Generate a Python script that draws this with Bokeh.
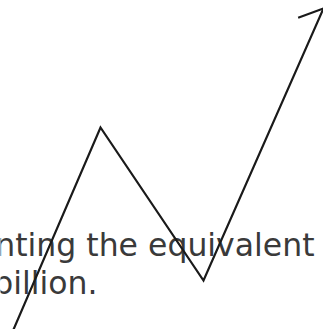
import numpy as np
from bokeh.plotting import figure
from bokeh.models import Range1d
from bokeh.core.properties import value
from bokeh.embed import file_html
from bokeh.resources import INLINE

# zig-zag trend values (x position, level)
trend_x = [8.7, 100, 203, 323]
trend_y = [-10, 202, 49, 321]

text_lines = ["nting the equivalent", "billion."]
text_right_x = [314, 97]
text_baseline_y = [85, 47]

W, H = 323, 329
p = figure(width=W, height=H, output_backend="svg", toolbar_location=None,
           x_range=Range1d(0, W), y_range=Range1d(0, H), min_border=0,
           background_fill_color="white", border_fill_color="white")
p.axis.visible = False
p.grid.visible = False
p.outline_line_color = None
p.styles = {"position": "absolute", "left": "0px", "top": "0px"}

p.text(x=text_right_x, y=text_baseline_y, text=text_lines,
       text_font=value("DejaVu Sans"), text_font_size="31.5px",
       text_color="#3a3a3a", text_align="right", text_baseline="alphabetic")

p.line(trend_x, trend_y, line_color="#1a1a1a", line_width=2.2, line_join="miter")

# open arrow head barb computed from last segment direction
tx, ty = trend_x[-1], trend_y[-1]
dx, dy = trend_x[-2] - tx, trend_y[-2] - ty
L = np.hypot(dx, dy)
dx, dy = dx / L, dy / L
th = np.deg2rad(46)
blen = 27
bx = []
by = []
for s in (1, -1):
    rx = dx * np.cos(s * th) - dy * np.sin(s * th)
    ry = dx * np.sin(s * th) + dy * np.cos(s * th)
    bx.append(tx + blen * rx)
    by.append(ty + blen * ry)
p.multi_line(xs=[[bx[0], tx, bx[1]]], ys=[[by[0], ty, by[1]]],
             line_color="#1a1a1a", line_width=2.2)

open("out.html", "w").write(file_html(p, INLINE))
